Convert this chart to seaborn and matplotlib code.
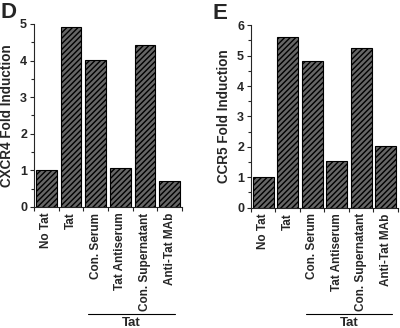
import matplotlib
matplotlib.use("Agg")
import matplotlib.pyplot as plt
import seaborn as sns
import pandas as pd

# Data
categories = ["No Tat", "Tat", "Con. Serum", "Tat Antiserum", "Con. Supernatant", "Anti-Tat MAb"]
cxcr4 = [1.01, 4.91, 4.01, 1.06, 4.43, 0.71]
ccr5 = [1.02, 5.63, 4.84, 1.53, 5.24, 2.03]
group_label = "Tat"

sns.set_style("ticks")
plt.rcParams["font.family"] = ["Liberation Sans", "DejaVu Sans"]
plt.rcParams["font.weight"] = "bold"
plt.rcParams["hatch.linewidth"] = 1.0

fig = plt.figure(figsize=(4, 3.28), dpi=100)
ax1 = fig.add_axes([0.085, 0.369, 0.37, 0.558])
ax2 = fig.add_axes([0.6275, 0.367, 0.3675, 0.556])


def panel(ax, values, ylabel, ymax, line_x):
    df = pd.DataFrame({"cond": categories, "val": values})
    sns.barplot(data=df, x="cond", y="val", color="#666666", width=0.85,
                edgecolor="black", linewidth=0.8, saturation=1, ax=ax)
    for p in ax.patches:
        p.set_hatch("//////")
    ax.set_xlim(-0.5, len(categories) - 0.5)
    ax.set_ylim(0, ymax)
    ax.set_yticks(range(ymax + 1))
    ax.set_yticks([i + 0.5 for i in range(ymax)], minor=True)
    ax.set_yticklabels([str(i) for i in range(ymax + 1)], fontsize=9, fontweight="bold")
    ax.tick_params(axis="y", which="major", length=3, width=0.8, pad=2)
    ax.tick_params(axis="y", which="minor", length=2, width=0.8)
    # boundary ticks on x, labels at bar centres
    ax.set_xticks([i - 0.5 for i in range(len(categories) + 1)])
    ax.set_xticklabels([])
    ax.set_xticks(range(len(categories)), minor=True)
    ax.set_xticklabels(categories, minor=True, rotation=90, fontsize=8.5, fontweight="bold")
    ax.tick_params(axis="x", which="major", length=3, width=0.8)
    ax.tick_params(axis="x", which="minor", length=0, pad=4)
    ax.set_xlabel("")
    ax.set_ylabel(ylabel, fontsize=9.75, fontweight="bold", labelpad=4)
    sns.despine(ax=ax)
    for s in ax.spines.values():
        s.set_linewidth(0.8)
    # group bracket under the treated conditions
    trans = ax.get_xaxis_transform()
    ax.plot(line_x, [-0.585, -0.585], color="black", lw=0.8, transform=trans, clip_on=False)
    ax.text(sum(line_x) / 2, -0.6, group_label, transform=trans, ha="center", va="top",
            fontsize=9.5, fontweight="bold")
    return ax


panel(ax1, cxcr4, "CXCR4 Fold Induction", 5, [1.69, 5.2])
panel(ax2, ccr5, "CCR5 Fold Induction", 6, [1.74, 5.25])

fig.text(0.0, 0.995, "D", fontsize=16, fontweight="bold", ha="left", va="top")
fig.text(0.532, 0.99, "E", fontsize=16, fontweight="bold", ha="left", va="top")

fig.savefig("out.png", dpi=100)
